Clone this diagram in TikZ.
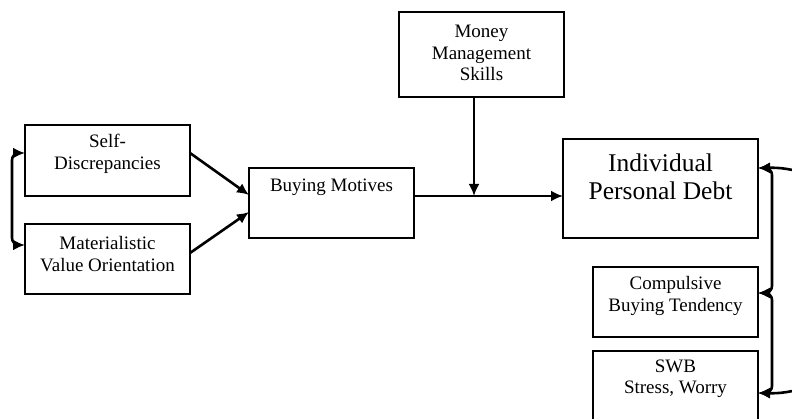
\documentclass[tikz,border=0pt]{standalone}
\usepackage{fontspec}
\setmainfont{Liberation Serif}
\usetikzlibrary{arrows.meta}
\begin{document}
\begin{tikzpicture}[x=1pt,y=-1pt,
  box/.style={draw, line width=1.1pt, inner sep=0pt, outer sep=0pt, anchor=north west},
  txt/.style={align=center, inner sep=0pt, font=\fontsize{19}{21.5}\selectfont},
  bigtxt/.style={align=center, inner sep=0pt, font=\fontsize{25.5}{28}\selectfont},
  tip/.tip={Latex[length=12pt,width=11pt]},
  link/.style={line width=2.6pt, -tip},
  twoway/.style={line width=2.6pt, tip-tip, rounded corners=7pt}]
\clip (0,0) rectangle (792,419);
\fill[white] (0,0) rectangle (792,419);

% boxes
\node[box, minimum width=165pt, minimum height=71pt] (self) at (25,125) {};
\node[box, minimum width=165pt, minimum height=70pt] (mat) at (25,224) {};
\node[box, minimum width=165pt, minimum height=70pt] (buy) at (249,168) {};
\node[box, minimum width=165pt, minimum height=85pt] (money) at (399,12) {};
\node[box, minimum width=195pt, minimum height=99pt] (ind) at (563,139) {};
\node[box, minimum width=165pt, minimum height=70pt] (comp) at (593,267) {};
\node[box, minimum width=165pt, minimum height=80pt] (swb) at (593,351) {};

% labels
\node[txt] (selft) at (107.5,154) {Self-\\Discrepancies};
\node[txt] (matt) at (107.5,254) {Materialistic\\Value Orientation};
\node[txt] (buyt) at (331.5,187) {Buying Motives};
\node[txt] (moneyt) at (481.5,53) {Money\\Management\\Skills};
\node[bigtxt] (indt) at (660.5,177) {Individual\\Personal Debt};
\node[txt] (compt) at (675.5,296) {Compulsive\\Buying Tendency};
\node[txt] (swbt) at (675.5,379) {SWB\\Stress, Worry};

% paths
\coordinate (j) at (474,196);
\draw[link] ([yshift=-28pt]self.north east) -- ([yshift=-27pt]buy.north west);
\draw[link] ([yshift=-29pt]mat.north east) -- ([yshift=-44pt]buy.north west);
\draw[line width=2.6pt] ([yshift=-28pt]buy.north east) -- (j);
\draw[link] (j) -- (j -| ind.west);
\draw[link] (money.south -| j) -- (j);

\draw[twoway] ([yshift=-28pt]self.north west) -- (12,153) -- (12,245) -- ([yshift=-21pt]mat.north west);
\draw[twoway] ([yshift=-29pt]ind.north east) -- (772,168) -- (772,293) -- ([yshift=-26pt]comp.north east);
\draw[twoway] ([yshift=-26pt]comp.north east) -- (772,293) -- (772,393) -- ([yshift=-42pt]swb.north east);
\draw[line width=2.6pt, tip-tip]
  ([yshift=-29pt]ind.north east) .. controls (900,165) and (900,396) .. ([yshift=-42pt]swb.north east);
\end{tikzpicture}
\end{document}
